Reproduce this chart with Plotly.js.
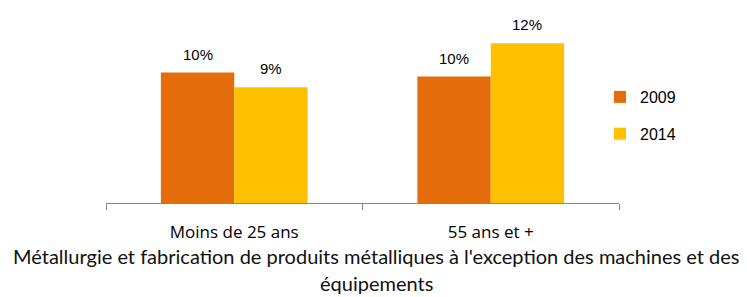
<!DOCTYPE html>
<html>
<head>
<meta charset="utf-8">
<script src="https://cdn.plot.ly/plotly-3.0.1.min.js"></script>
<style>html,body{margin:0;padding:0;background:#fff;}</style>
</head>
<body>
<div id="chart" style="width:747px;height:297px;"></div>
<script>
const categories = ['Moins de 25 ans', '55 ans et +'];
const seriesNames = ['2009', '2014'];
const values2009 = [9.8, 9.5];
const values2014 = [8.7, 12.0];
const labels2009 = ['10%', '10%'];
const labels2014 = ['9%', '12%'];
const titleLines = [
  "Métallurgie et fabrication de produits métalliques à l'exception des machines et des",
  "équipements"
];

const colors = ['#E46C0A', '#FFC000'];
const seriesValues = [values2009, values2014];
const seriesLabels = [labels2009, labels2014];

const traces = seriesNames.map((name, i) => ({
  type: 'bar',
  name: name,
  x: categories,
  y: seriesValues[i],
  marker: {color: colors[i]},
  legendgroup: name,
  hoverinfo: 'none'
}));

const W = 747, H = 297;
const margin = {l: 106, r: 128, t: 10, b: 94};
const plotW = W - margin.l - margin.r;
const plotH = H - margin.t - margin.b;
const bargap = 0.428;
const barPx = plotW / categories.length * (1 - bargap) / seriesNames.length;

const annotations = [];
seriesNames.forEach((name, i) => {
  categories.forEach((c, j) => {
    annotations.push({
      x: c, y: seriesValues[i][j], xref: 'x', yref: 'y',
      text: seriesLabels[i][j], showarrow: false,
      xshift: (i - 0.5) * barPx, yshift: 8,
      yanchor: 'bottom', xanchor: 'center',
      font: {family: 'Liberation Sans, Arial, sans-serif', size: 15, color: '#000'}
    });
  });
});
const titleY = [256, 283];
const titleX = 376;
titleLines.forEach((t, k) => {
  annotations.push({
    x: (titleX - margin.l) / plotW, xref: 'paper',
    y: (margin.t + plotH - titleY[k]) / plotH, yref: 'paper',
    xanchor: 'center', yanchor: 'middle', showarrow: false,
    text: t,
    font: {family: 'Lato, sans-serif', size: 20, color: '#111'}
  });
});

const layout = {
  width: W, height: H,
  margin: margin,
  paper_bgcolor: '#fff', plot_bgcolor: '#fff',
  barmode: 'group', bargap: bargap, bargroupgap: 0,
  showlegend: true,
  legend: {
    x: (600 - margin.l) / plotW, xanchor: 'left',
    y: (margin.t + plotH - 80) / plotH, yanchor: 'top',
    font: {family: 'Liberation Sans, Arial, sans-serif', size: 16, color: '#000'},
    tracegroupgap: 13,
    traceorder: 'grouped',
    bgcolor: 'rgba(0,0,0,0)'
  },
  xaxis: {
    type: 'category',
    showline: true, linecolor: '#868686', linewidth: 1,
    ticks: 'outside', ticklen: 6, tickcolor: '#868686', tickson: 'boundaries',
    showgrid: false, zeroline: false,
    ticklabelstandoff: 14,
    tickfont: {family: 'Open Sans, sans-serif', size: 17, color: '#000'},
    fixedrange: true
  },
  yaxis: {
    range: [0, 14.5],
    visible: false, showgrid: false, zeroline: false, fixedrange: true
  },
  annotations: annotations
};

Plotly.newPlot('chart', traces, layout, {displayModeBar: false, staticPlot: true});
</script>
</body>
</html>
